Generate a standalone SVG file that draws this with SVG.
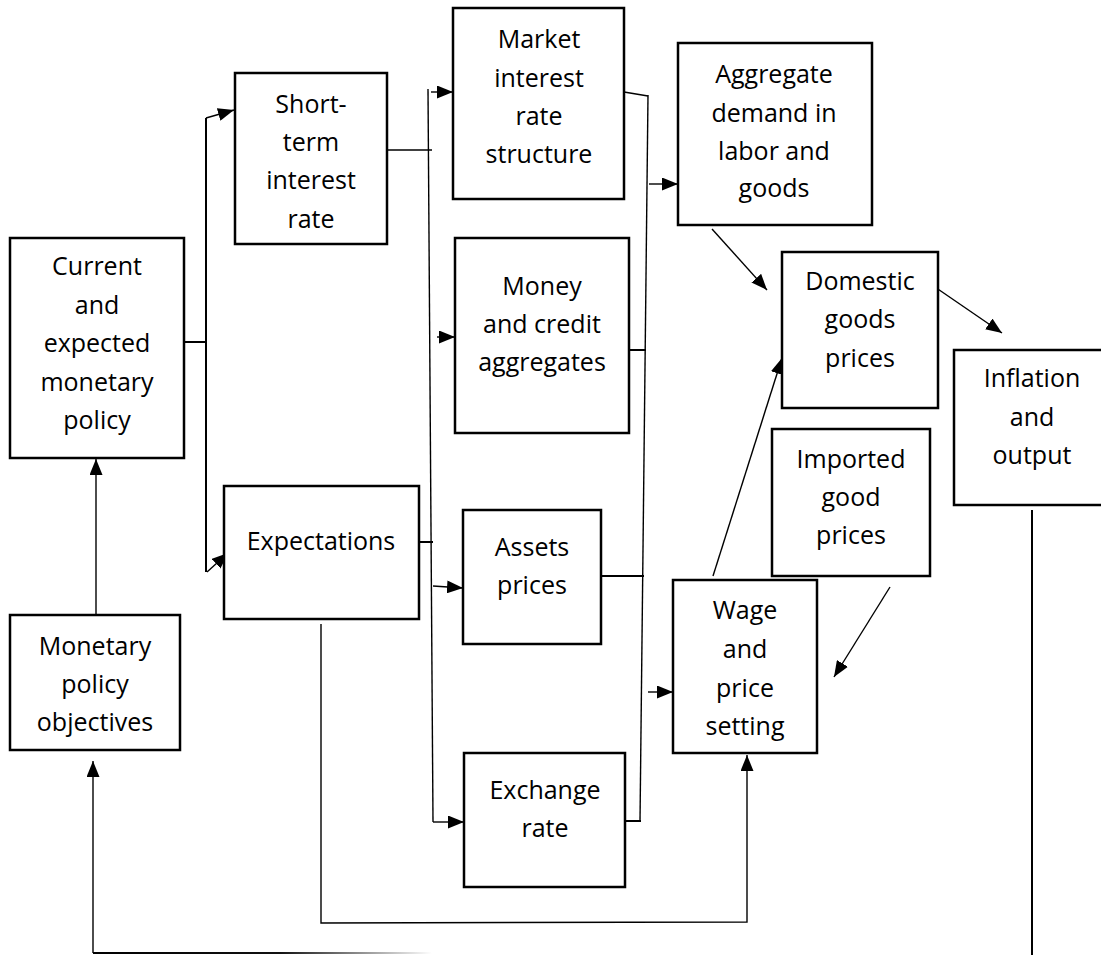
<svg xmlns="http://www.w3.org/2000/svg" width="1101" height="955" viewBox="0 0 1101 955">
<defs>
<style>
.box{fill:#fff;stroke:#000;stroke-width:2.5}
.t{font-family:"Open Sans","Liberation Sans",sans-serif;font-size:25px;fill:#000;text-anchor:middle}
.c{fill:none;stroke:#000;stroke-width:1.4}
.c2{fill:none;stroke:#000;stroke-width:2}
.a{marker-end:url(#ah)}
</style>
<marker id="ah" markerUnits="userSpaceOnUse" viewBox="0 0 16 13" markerWidth="16" markerHeight="13" refX="16" refY="6.5" orient="auto">
<path d="M0,0 L16,6.5 L0,13 Z" fill="#000"/>
</marker>
<linearGradient id="fade" gradientUnits="userSpaceOnUse" x1="93" y1="0" x2="432" y2="0">
<stop offset="0" stop-color="#000"/>
<stop offset="0.55" stop-color="#111"/>
<stop offset="1" stop-color="#fff"/>
</linearGradient>
</defs>

<g id="connectors">
<line class="c2" x1="184" y1="342" x2="206" y2="342"/>
<line class="c2" x1="206" y1="118" x2="206" y2="572"/>
<line class="c a" x1="206" y1="118" x2="234" y2="110"/>
<line class="c a" x1="207" y1="572" x2="228" y2="553"/>
<line class="c a" x1="96" y1="615" x2="96" y2="459"/>
<line class="c" x1="387" y1="150" x2="432" y2="150"/>
<line class="c" x1="428" y1="89" x2="433" y2="822"/>
<line class="c a" x1="431" y1="92" x2="453" y2="92"/>
<line class="c a" x1="437" y1="337" x2="455" y2="337"/>
<line class="c2" x1="419" y1="542" x2="433" y2="542"/>
<line class="c a" x1="433" y1="586" x2="463" y2="588"/>
<line class="c a" x1="433" y1="822" x2="464" y2="822"/>
<line class="c" x1="624" y1="92" x2="648" y2="96"/>
<line class="c" x1="648" y1="95" x2="640" y2="822"/>
<line class="c2" x1="629" y1="350" x2="646" y2="350"/>
<line class="c2" x1="601" y1="576" x2="644" y2="576"/>
<line class="c2" x1="625" y1="821" x2="641" y2="821"/>
<line class="c a" x1="649" y1="184" x2="678" y2="184"/>
<line class="c a" x1="648" y1="692" x2="673" y2="692"/>
<line class="c a" x1="712" y1="229" x2="767" y2="290"/>
<line class="c a" x1="932" y1="285" x2="1002" y2="333"/>
<line class="c a" x1="713" y1="576" x2="782" y2="358"/>
<line class="c a" x1="890" y1="587" x2="834" y2="677"/>
<polyline class="c a" points="321,624 321,923 747,922 747,755"/>
<line class="c2" x1="1032" y1="510" x2="1032" y2="955"/>
<line class="c a" x1="93" y1="953" x2="93" y2="761"/>
<line x1="93" y1="953" x2="432" y2="953" stroke="url(#fade)" stroke-width="2"/>
</g>

<g id="short-term">
<rect class="box" x="235" y="73" width="152" height="171"/>
<text class="t" x="311" y="113">Short-</text>
<text class="t" x="311" y="151">term</text>
<text class="t" x="311" y="189">interest</text>
<text class="t" x="311" y="228">rate</text>
</g>

<g id="current">
<rect class="box" x="10" y="238" width="174" height="220"/>
<text class="t" x="97" y="275">Current</text>
<text class="t" x="97" y="314">and</text>
<text class="t" x="97" y="352">expected</text>
<text class="t" x="97" y="391">monetary</text>
<text class="t" x="97" y="429">policy</text>
</g>

<g id="objectives">
<rect class="box" x="10" y="615" width="170" height="135"/>
<text class="t" x="95" y="655">Monetary</text>
<text class="t" x="95" y="693">policy</text>
<text class="t" x="95" y="731">objectives</text>
</g>

<g id="expectations">
<rect class="box" x="224" y="486" width="195" height="133"/>
<text class="t" x="321" y="550">Expectations</text>
</g>

<g id="market">
<rect class="box" x="453" y="8" width="171" height="191"/>
<text class="t" x="539" y="48">Market</text>
<text class="t" x="539" y="87">interest</text>
<text class="t" x="539" y="125">rate</text>
<text class="t" x="539" y="163">structure</text>
</g>

<g id="money">
<rect class="box" x="455" y="238" width="174" height="195"/>
<text class="t" x="542" y="295">Money</text>
<text class="t" x="542" y="333">and credit</text>
<text class="t" x="542" y="371">aggregates</text>
</g>

<g id="assets">
<rect class="box" x="463" y="510" width="138" height="134"/>
<text class="t" x="532" y="556">Assets</text>
<text class="t" x="532" y="594">prices</text>
</g>

<g id="exchange">
<rect class="box" x="464" y="753" width="161" height="134"/>
<text class="t" x="545" y="799">Exchange</text>
<text class="t" x="545" y="837">rate</text>
</g>

<g id="aggregate">
<rect class="box" x="678" y="43" width="194" height="182"/>
<text class="t" x="774" y="83">Aggregate</text>
<text class="t" x="774" y="122">demand in</text>
<text class="t" x="774" y="160">labor and</text>
<text class="t" x="774" y="197">goods</text>
</g>

<g id="domestic">
<rect class="box" x="782" y="252" width="156" height="156"/>
<text class="t" x="860" y="290">Domestic</text>
<text class="t" x="860" y="328">goods</text>
<text class="t" x="860" y="367">prices</text>
</g>

<g id="imported">
<rect class="box" x="772" y="429" width="158" height="147"/>
<text class="t" x="851" y="468">Imported</text>
<text class="t" x="851" y="506">good</text>
<text class="t" x="851" y="544">prices</text>
</g>

<g id="wage">
<rect class="box" x="673" y="580" width="144" height="173"/>
<text class="t" x="745" y="619">Wage</text>
<text class="t" x="745" y="658">and</text>
<text class="t" x="745" y="697">price</text>
<text class="t" x="745" y="735">setting</text>
</g>

<g id="inflation">
<rect class="box" x="954" y="350" width="156" height="155"/>
<text class="t" x="1032" y="387">Inflation</text>
<text class="t" x="1032" y="426">and</text>
<text class="t" x="1032" y="464">output</text>
</g>
</svg>
